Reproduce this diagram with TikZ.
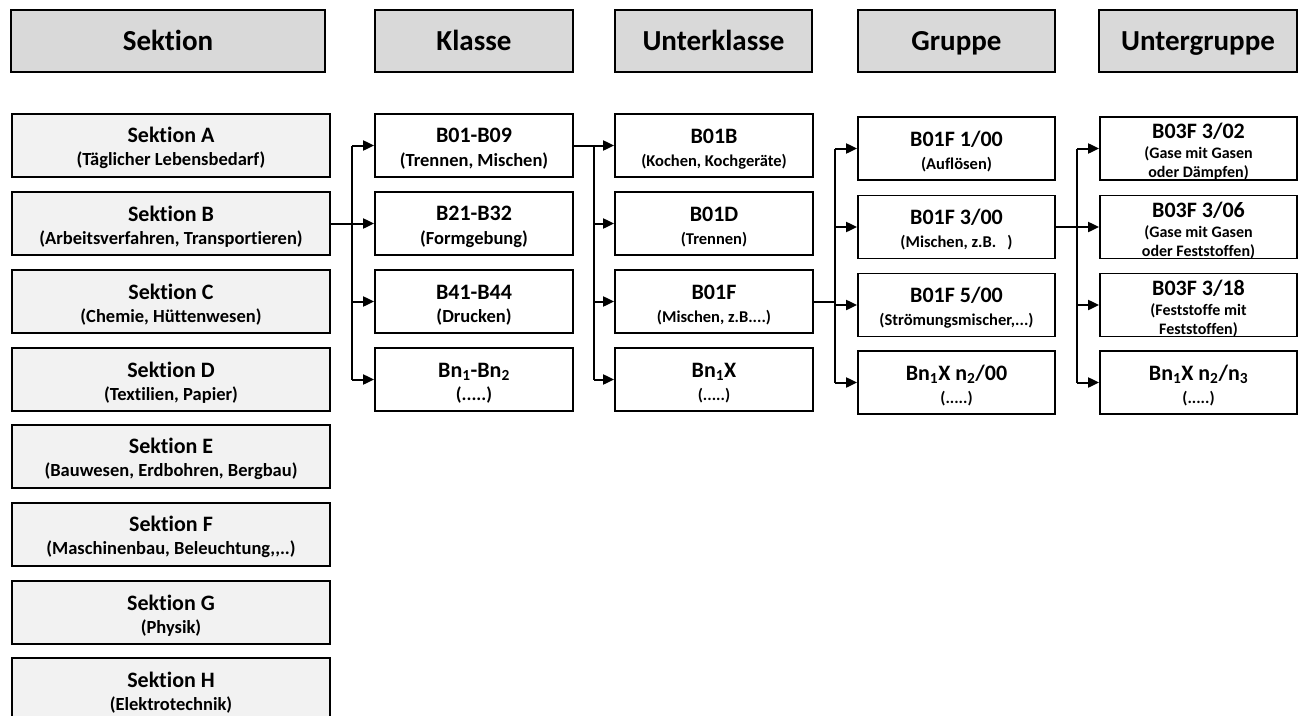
\documentclass[tikz,border=0pt]{standalone}
\usepackage{fontspec}
\setmainfont{Carlito}[Ligatures={NoCommon}]
\usetikzlibrary{arrows.meta}

\definecolor{hdrgray}{HTML}{D9D9D9}
\definecolor{secgray}{HTML}{F2F2F2}

\newcommand{\hdrfont}{\bfseries\fontsize{29}{32}\selectfont}
\newcommand{\ttlfont}{\bfseries\fontsize{22}{26}\selectfont}
\newcommand{\subL}{\bfseries\fontsize{18.5}{21}\selectfont}
\newcommand{\subM}{\bfseries\fontsize{16.5}{19}\selectfont}
\newcommand{\subG}{\bfseries\fontsize{16}{18}\selectfont}
\newcommand{\sub}[1]{\textsubscript{#1}}
% invisible strut that lowers the text block a little inside its box
\newcommand{\toppad}{\rule{0pt}{21pt}}

\begin{document}
\begin{tikzpicture}[x=1pt,y=-1pt,
  frame/.style={draw=black, line width=1.8pt, inner sep=0pt, minimum height=63pt},
  hdr/.style={frame, fill=hdrgray, minimum height=62pt, font=\hdrfont,
              text height=24pt, text depth=6pt},
  secbox/.style={frame, align=center, fill=secgray, minimum width=318pt, font=\ttlfont},
  entry/.style={frame, align=center, fill=white, font=\ttlfont},
  % three-line text set with exact baseline distances inside an empty box
  stack/.style={inner sep=0pt, align=center, font={\ttlfont\lineskiplimit=-100pt}},
  wd/.style={minimum width=#1},
  link/.style={line width=2pt},
  arr/.style={link, -{Triangle[length=11pt,width=10pt]}}]

\useasboundingbox (0,0) rectangle (1301,715);

% column headers
\node[hdr, wd=314pt] (hS) at (168,41) {Sektion};
\node[hdr, wd=198pt] (hK) at (474,41) {Klasse};
\node[hdr, wd=197pt] (hU) at (713.5,41) {Unterklasse};
\node[hdr, wd=197pt] (hG) at (956.5,41) {Gruppe};
\node[hdr, wd=198pt] (hUG) at (1198,41) {Untergruppe};

% sections
\node[secbox] (sA) at (171,145.5) {\toppad Sektion A\\[-3pt]{\subL (Täglicher Lebensbedarf)}};
\node[secbox] (sB) at (171,223.5) {\toppad Sektion B\\[-3pt]{\subL (Arbeitsverfahren, Transportieren)}};
\node[secbox] (sC) at (171,301.5) {\toppad Sektion C\\[-3pt]{\subL (Chemie, Hüttenwesen)}};
\node[secbox] (sD) at (171,379.5) {\toppad Sektion D\\[-3pt]{\subL (Textilien, Papier)}};
\node[secbox] (sE) at (171,456.5) {\toppad Sektion E\\[-3pt]{\subL (Bauwesen, Erdbohren, Bergbau)}};
\node[secbox] (sF) at (171,534.5) {\toppad Sektion F\\[-3pt]{\subL (Maschinenbau, Beleuchtung,{},..)}};
\node[secbox] (sG) at (171,612.5) {\toppad Sektion G\\[-3pt]{\subL (Physik)}};
\node[secbox] (sH) at (171,689.5) {\toppad Sektion H\\[-3pt]{\subL (Elektrotechnik)}};

% classes
\node[entry, wd=198pt] (k1) at (474,145.5) {\toppad B01-B09\\[-2pt]{\subL (Trennen, Mischen)}};
\node[entry, wd=198pt] (k2) at (474,223.5) {\toppad B21-B32\\[-2pt]{\subL (Formgebung)}};
\node[entry, wd=198pt] (k3) at (474,301.5) {\toppad B41-B44\\[-3pt]{\subL (Drucken)}};
\node[entry, wd=198pt] (k4) at (474,379.5) {\toppad Bn\sub{1}-Bn\sub{2}\\[-3pt]{\subL (.....)}};

% subclasses
\node[entry, wd=198pt] (u1) at (714,145.5) {\toppad B01B\\[-3pt]{\subM (Kochen, Kochgeräte)}};
\node[entry, wd=198pt] (u2) at (714,223.5) {\toppad B01D\\[-3pt]{\subM (Trennen)}};
\node[entry, wd=198pt] (u3) at (714,301.5) {\toppad B01F\\[-3pt]{\subM (Mischen, z.B....)}};
\node[entry, wd=198pt] (u4) at (714,379.5) {\toppad Bn\sub{1}X\\[-3pt]{\subM (.....)}};

% groups
\node[entry, wd=197pt] (g1) at (956.5,148.5) {\toppad B01F 1/00\\[-3pt]{\subM (Auflösen)}};
\node[entry, wd=197pt] (g2) at (956.5,227) {\toppad B01F 3/00\\[-3pt]{\subM (Mischen, z.B.\ \ \ )}};
\node[entry, wd=197pt] (g3) at (956.5,305) {\toppad B01F 5/00\\[-3pt]{\subM (Strömungsmischer,...)}};
\node[entry, wd=197pt] (g4) at (956.5,382.5) {\toppad Bn\sub{1}X n\sub{2}/00\\[-3pt]{\subM (.....)}};

% subgroups
\node[entry, wd=197pt] (t1) at (1198.5,148.5) {};
\node[entry, wd=197pt] (t2) at (1198.5,227) {};
\node[entry, wd=197pt] (t3) at (1198.5,305) {};
\node[entry, wd=197pt] (t4) at (1198.5,382.5) {\toppad Bn\sub{1}X n\sub{2}/n\sub{3}\\[-3pt]{\subM (.....)}};
\node[stack] (t1l) at ([yshift=-3pt]t1.center) {B03F 3/02\\[-6pt]{\subG (Gase mit Gasen}\\[-7pt]{\subG oder Dämpfen)}};
\node[stack] (t2l) at ([yshift=-3pt]t2.center) {B03F 3/06\\[-6pt]{\subG (Gase mit Gasen}\\[-7pt]{\subG oder Feststoffen)}};
\node[stack] (t3l) at ([yshift=-3pt]t3.center) {B03F 3/18\\[-6pt]{\subG (Feststoffe mit}\\[-7pt]{\subG Feststoffen)}};

% junction points of the branching connectors
\coordinate (jK) at (352,223.5);
\coordinate (jU) at (594,145.5);
\coordinate (jG) at (835,301.5);
\coordinate (jT) at (1077,227);

% Sektion B -> classes
\draw[link] (sB.east) -- (jK);
\draw[link] (jK |- k1.west) -- (jK |- k4.west);
\foreach \n in {k1,k2,k3,k4} \draw[arr] (jK |- \n.west) -- (\n.west);

% B01-B09 -> subclasses
\draw[link] (k1.east) -- (jU);
\draw[link] (jU |- u1.west) -- (jU |- u4.west);
\foreach \n in {u1,u2,u3,u4} \draw[arr] (jU |- \n.west) -- (\n.west);

% B01F -> groups
\draw[link] (u3.east) -- (jG);
\draw[link] (jG |- g1.west) -- (jG |- g4.west);
\foreach \n in {g1,g2,g3,g4} \draw[arr] (jG |- \n.west) -- (\n.west);

% B01F 3/00 -> subgroups
\draw[link] (g2.east) -- (jT);
\draw[link] (jT |- t1.west) -- (jT |- t4.west);
\foreach \n in {t1,t2,t3,t4} \draw[arr] (jT |- \n.west) -- (\n.west);

\end{tikzpicture}
\end{document}
